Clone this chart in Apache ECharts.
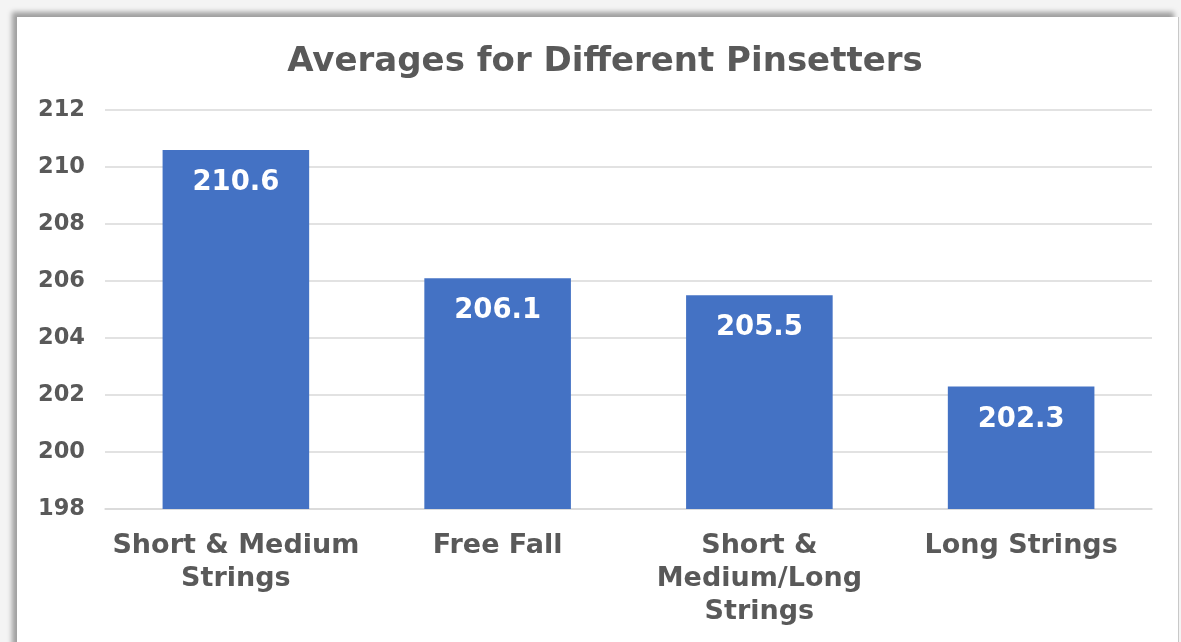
<!DOCTYPE html>
<html><head><meta charset="utf-8">
<script src="https://cdn.jsdelivr.net/npm/echarts@6/dist/echarts.min.js"></script>
<style>
html,body{margin:0;padding:0;background:#f4f4f4;width:1181px;height:642px;overflow:hidden;}
#frame{position:absolute;left:17px;top:17px;width:1161px;height:640px;background:#fff;border-right:1px solid #c8c8c8;box-shadow:-5px -5px 5px rgba(0,0,0,0.35);}
#chart{position:absolute;left:0;top:0;width:1181px;height:642px;}
</style></head>
<body>
<div id="frame"></div>
<div id="chart"></div>
<script>
var titleText = 'Averages for Different Pinsetters';
var categories = ['Short & Medium\nStrings', 'Free Fall', 'Short &\nMedium/Long\nStrings', 'Long Strings'];
var values = [210.6, 206.1, 205.5, 202.3];
var yMin = 198, yMax = 212, yStep = 2;

var font = 'DejaVu Sans';
var chart = echarts.init(document.getElementById('chart'), null, {renderer:'canvas'});
chart.setOption({
  backgroundColor: 'transparent',
  animation: false,
  title: {
    text: titleText, left: 600, top: 40, textAlign: 'center',
    textStyle: {fontFamily: font, fontWeight: 'bold', fontSize: 34, color: '#595959'}
  },
  grid: {left: 105, right: 29, top: 110, bottom: 133, containLabel: false},
  xAxis: {
    type: 'category', data: categories,
    axisLine: {show: true, lineStyle: {color: '#d9d9d9', width: 1.5}},
    axisTick: {show: false},
    axisLabel: {fontFamily: font, fontWeight: 'bold', fontSize: 27, color: '#595959', margin: 20, lineHeight: 33, interval: 0}
  },
  yAxis: {
    type: 'value', min: yMin, max: yMax, interval: yStep,
    axisLine: {show: false}, axisTick: {show: false},
    splitLine: {lineStyle: {color: '#d9d9d9', width: 1.5}},
    axisLabel: {fontFamily: font, fontWeight: 'bold', fontSize: 22.5, color: '#595959', margin: 20}
  },
  series: [{
    type: 'bar', data: values, barCategoryGap: '44%',
    itemStyle: {color: '#4472C4'},
    label: {show: true, position: 'insideTop', distance: 19, fontFamily: font, fontWeight: 'bold', fontSize: 27.5, color: '#ffffff',
      formatter: function(p){ return p.value.toFixed(1); }}
  }]
});
</script>
</body></html>
